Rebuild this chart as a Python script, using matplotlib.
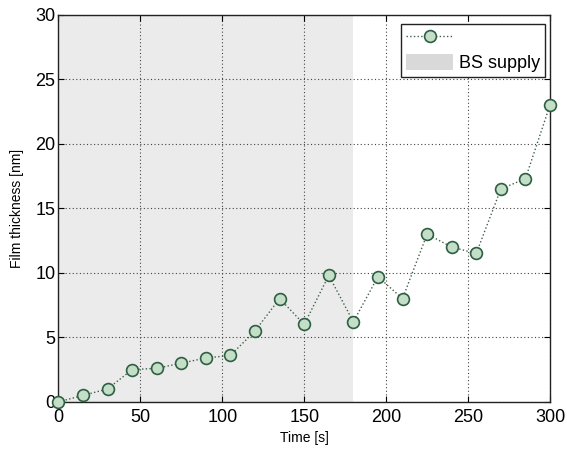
import matplotlib
matplotlib.use("Agg")
from matplotlib import pyplot as plt
from matplotlib.patches import Patch
from matplotlib.lines import Line2D

plt.rcParams.update({
    "font.family": ["Liberation Sans", "DejaVu Sans"],
    "font.size": 13,
})

time_s = [0, 15, 30, 45, 60, 75, 90, 105, 120, 135, 150,
          165, 180, 195, 210, 225, 240, 255, 270, 285, 300]
thickness_nm = [0.0, 0.5, 1.0, 2.5, 2.6, 3.0, 3.4, 3.6, 5.5, 8.0, 6.0,
                9.8, 6.2, 9.7, 8.0, 13.0, 12.0, 11.5, 16.5, 17.3, 23.0]
supply_span = [0, 180]
supply_label = "BS supply"

line_style = dict(ls=":", color="#3f5f4c", lw=1, marker="o", ms=8.5,
                  mfc="#c4dfc8", mec="#2f5e42", mew=1.2)

fig = plt.figure(figsize=(5.67, 4.49), dpi=100)
ax = fig.add_axes([0.103, 0.105, 0.867, 0.862])

ax.axvspan(supply_span[0], supply_span[1], color="#ebebeb", lw=0, zorder=0)
ax.plot(time_s, thickness_nm, zorder=3, clip_on=False, **line_style)

ax.set_xlim(0, 300)
ax.set_ylim(0, 30)
ax.set_xticks(range(0, 301, 50))
ax.set_yticks(range(0, 31, 5))
ax.grid(True, color="#444444", linestyle=(0, (1, 2.2)), lw=0.8)
ax.set_axisbelow(True)
ax.tick_params(axis="x", direction="in", top=True, length=4, pad=5)
ax.tick_params(axis="y", direction="in", right=True, length=4, pad=2)
for sp in ax.spines.values():
    sp.set_linewidth(1.0)
    sp.set_color("#222222")

ax.set_xlabel("Time [s]", fontsize=10, labelpad=4)
ax.set_ylabel("Film thickness [nm]", fontsize=10, labelpad=8)

h1 = Line2D([], [], **line_style)
h2 = Patch(facecolor="#d9d9d9", edgecolor="none")
leg = ax.legend([h1, h2], ["", supply_label], loc="upper right",
                bbox_to_anchor=(0.99, 0.977), borderaxespad=0,
                fancybox=False, framealpha=1, edgecolor="#222222",
                handlelength=2.6, handleheight=1.0, borderpad=0.3,
                labelspacing=0.35, handletextpad=0.3, fontsize=13)
leg.get_frame().set_linewidth(1.0)

fig.savefig("out.png", dpi=100)
